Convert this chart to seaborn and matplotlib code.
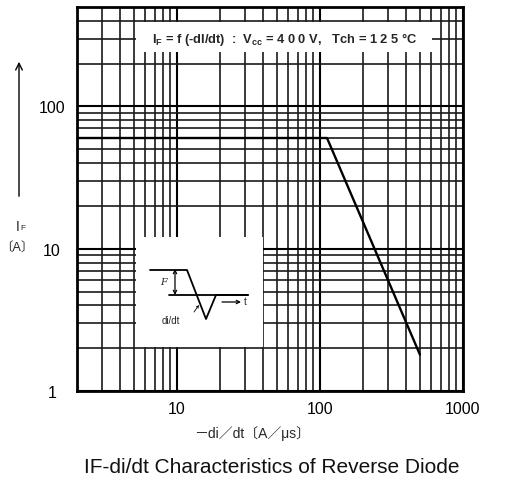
import numpy as np
import pandas as pd
import matplotlib
matplotlib.use("Agg")
import matplotlib.pyplot as plt
import seaborn as sns
from matplotlib.patches import Rectangle, FancyArrowPatch
from matplotlib.ticker import FixedLocator, FixedFormatter, NullFormatter, LogLocator

# data
di_dt = [2, 112, 500]          # -di/dt (A/us)
i_f = [60, 60, 1.8]            # IF (A)

x_ticks = [10, 100, 1000]
x_tick_labels = ["10", "100", "1000"]
y_ticks = [1, 10, 100]
y_tick_labels = ["1", "10", "100"]
x_range = (2, 1000)
y_range = (1, 500)

sns.set_theme(style="white")
plt.rcParams["font.family"] = ["Liberation Sans", "DejaVu Sans", "Noto Sans CJK JP"]
plt.rcParams["mathtext.fontset"] = "custom"
plt.rcParams["mathtext.rm"] = "Liberation Sans:bold"
plt.rcParams["mathtext.bf"] = "Liberation Sans:bold"

W, H = 508, 489
fig = plt.figure(figsize=(W / 100, H / 100), dpi=100)
fig.patch.set_facecolor("white")

# axes box in pixels: x 77..463, y 8..392
ax = fig.add_axes([77 / W, (H - 392) / H, 386 / W, 384 / H])
ax.set_facecolor("white")

df = pd.DataFrame({"didt": di_dt, "IF": i_f})
sns.lineplot(data=df, x="didt", y="IF", ax=ax, color="black", lw=1.7,
             sort=False, zorder=3)

ax.set_xscale("log")
ax.set_yscale("log")
ax.set_xlim(*x_range)
ax.set_ylim(*y_range)

ax.xaxis.set_major_locator(FixedLocator(x_ticks))
ax.xaxis.set_major_formatter(FixedFormatter(x_tick_labels))
ax.yaxis.set_major_locator(FixedLocator(y_ticks))
ax.yaxis.set_major_formatter(FixedFormatter(y_tick_labels))
ax.xaxis.set_minor_locator(LogLocator(base=10, subs=np.arange(2, 10)))
ax.yaxis.set_minor_locator(LogLocator(base=10, subs=np.arange(2, 10)))
ax.xaxis.set_minor_formatter(NullFormatter())
ax.yaxis.set_minor_formatter(NullFormatter())

ax.tick_params(which="both", length=0)
ax.tick_params(axis="x", labelsize=11.5, pad=7, colors="black")
ax.tick_params(axis="y", labelsize=11.5, pad=18, colors="black")
for lab in ax.get_yticklabels():
    lab.set_horizontalalignment("center")

ax.set_axisbelow(True)
ax.grid(which="major", color="black", lw=1.5)
ax.grid(which="minor", color="#1a1a1a", lw=1.2)

for sp in ax.spines.values():
    sp.set_color("black")
    sp.set_linewidth(2)

ax.set_xlabel("")
ax.set_ylabel("")

# white area behind the condition text
ax.add_patch(Rectangle((59 / 386, (392 - 53) / 384), 296 / 386, 30 / 384,
                       transform=ax.transAxes, facecolor="white",
                       edgecolor="none", zorder=1.5))
ax.text((285 - 77) / 386, (392 - 40) / 384,
        r"I$_{\mathrm{F}}$ = f (-dI/dt)  :  V$_{\mathrm{cc}}$ = 4 0 0 V,   Tch = 1 2 5 °C",
        transform=ax.transAxes, ha="center", va="center", fontsize=9.3,
        fontweight="bold", zorder=4)

# white area for the waveform sketch
ax.add_patch(Rectangle((59 / 386, (392 - 348) / 384), 127 / 386, 110 / 384,
                       transform=ax.transAxes, facecolor="white",
                       edgecolor="none", zorder=1.5))

# waveform sketch, drawn in pixel-like coords
ins = fig.add_axes([136 / W, (H - 348) / H, 127 / W, 110 / H])
ins.set_xlim(136, 263)
ins.set_ylim(348, 238)
ins.axis("off")
ins.patch.set_alpha(0)
ins.plot([150, 187, 206, 216, 248], [271, 271, 320, 296, 296], color="black", lw=1.3)
ins.plot([169, 248], [295.5, 295.5], color="black", lw=1.3)
ins.annotate("", xy=(175, 270), xytext=(175, 296),
             arrowprops=dict(arrowstyle="<->", lw=0.9, color="black",
                             shrinkA=0, shrinkB=0, mutation_scale=6))
ins.text(164, 283, "F", ha="center", va="center", fontsize=7,
         family="DejaVu Serif", style="italic")
ins.annotate("", xy=(241, 303), xytext=(222, 303),
             arrowprops=dict(arrowstyle="->", lw=0.9, color="black",
                             shrinkA=0, shrinkB=0, mutation_scale=6))
ins.text(245, 302.5, "t", ha="center", va="center", fontsize=7)
ins.text(171, 321, "di/dt", ha="center", va="center", fontsize=7)
ins.annotate("", xy=(199, 306), xytext=(194, 313),
             arrowprops=dict(arrowstyle="->", lw=0.6, color="black",
                             shrinkA=0, shrinkB=0, mutation_scale=4))

# y axis label with upward arrow
fig.patches.append(FancyArrowPatch(
    (19 / W, 1 - 200 / H), (19 / W, 1 - 60 / H), transform=fig.transFigure,
    arrowstyle="->", mutation_scale=12, lw=1.0, color="black"))
fig.text(18 / W, 1 - 227 / H, "I", ha="center", va="center", fontsize=10)
fig.text(23 / W, 1 - 229 / H, "F", ha="center", va="center", fontsize=6)
fig.text(17 / W, 1 - 248 / H, "〔A〕", ha="center", va="center", fontsize=9,
         family=["Liberation Sans", "Noto Sans CJK JP"])

# x axis label and caption
fig.text(252 / W, 1 - 434 / H, "－di／dt〔A／μs〕", ha="center", va="center",
         fontsize=10, family=["Liberation Sans", "Noto Sans CJK JP"])
fig.text(272 / W, 1 - 468 / H, "IF-di/dt Characteristics of Reverse Diode",
         ha="center", va="center", fontsize=15, color="#111111")

fig.savefig("out.png", dpi=100, facecolor="white")
